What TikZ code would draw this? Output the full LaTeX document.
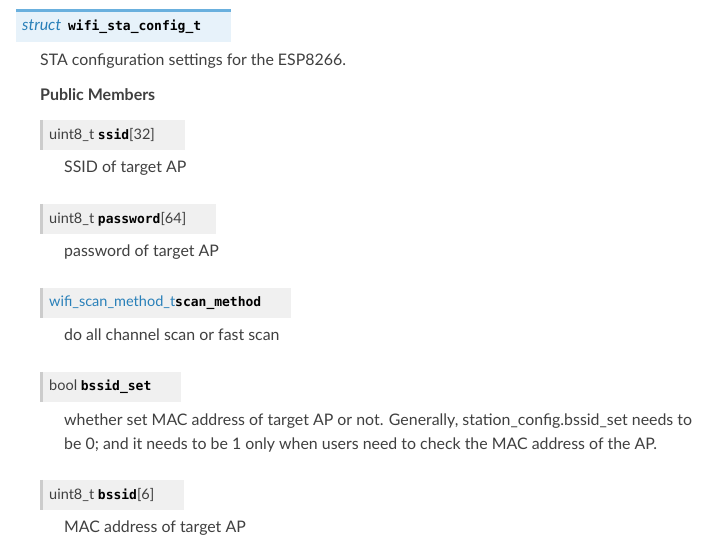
\documentclass[tikz,border=0pt]{standalone}
\usepackage{fontspec}
\setmainfont{Lato}
\setmonofont{DejaVu Sans Mono}
\usetikzlibrary{positioning}
\definecolor{bodytext}{HTML}{404040}
\definecolor{linkblue}{HTML}{2980B9}
\definecolor{hdrfill}{HTML}{E7F2FA}
\definecolor{hdrline}{HTML}{6AB0DE}
\definecolor{memfill}{HTML}{F0F0F0}
\definecolor{memline}{HTML}{CCCCCC}
\newcommand{\cname}[1]{{\ttfamily\bfseries\fontsize{13}{16}\selectfont\color{black}#1}}

\begin{document}
\begin{tikzpicture}[x=1pt,y=-1pt,
	txt/.style={anchor=west,inner sep=0pt,text=bodytext,font=\fontsize{15.9}{23.5}\selectfont,
		text height=12.5pt,text depth=1.5pt,align=left},
	head/.style={anchor=west,inner xsep=0pt,inner ysep=0pt,fill=hdrfill,minimum height=30pt,
		execute at begin node=\hspace*{6pt},execute at end node=\hspace*{30pt}},
	member/.style={anchor=west,inner xsep=0pt,inner ysep=0pt,fill=memfill,minimum height=30pt,
		text=bodytext,font=\fontsize{14.5}{16}\selectfont,
		execute at begin node=\hspace*{9pt},execute at end node=\hspace*{30pt}},
	edge/.style={line width=3pt}]
	\useasboundingbox[fill=white] (0,0) rectangle (718,544);
	% header of the struct
	\node (hdr) [head] at (16,27) {{\color{linkblue}\itshape\fontsize{16}{16}\selectfont struct}\hspace*{7pt}\cname{wifi\_sta\_config\_t}};
	\draw[edge,hdrline] ([yshift=1.5pt]hdr.north west) -- ([yshift=1.5pt]hdr.north east);
	\node (desc) [txt] at (40,60) {STA configuration settings for the ESP8266.};
	\node (pubm) [txt,font=\fontsize{16}{20}\selectfont\bfseries] at (40,95) {Public Members};
	% members
	\node (m1) [member] at (40,135) {uint8\_t \cname{ssid}[32]};
	\node (d1) [txt] at (64,167) {SSID of target AP};
	\node (m2) [member] at (40,219) {uint8\_t \cname{password}[64]};
	\node (d2) [txt] at (64,251) {password of target AP};
	\node (m3) [member] at (40,303) {{\color{linkblue}wifi\_scan\_method\_t}\cname{scan\_method}};
	\node (d3) [txt] at (64,335) {do all channel scan or fast scan};
	\node (m4) [member] at (40,387) {bool \cname{bssid\_set}};
	\node (d4) [txt,text height=,text depth=] at (64,433) {whether set MAC address of target AP or not. Generally, station\_config.bssid\_set needs to\\be 0; and it needs to be 1 only when users need to check the MAC address of the AP.};
	\node (m5) [member] at (40,495) {uint8\_t \cname{bssid}[6]};
	\node (d5) [txt] at (64,527) {MAC address of target AP};
	\foreach \m in {m1,m2,m3,m4,m5}
		\draw[edge,memline] ([xshift=1.5pt]\m.north west) -- ([xshift=1.5pt]\m.south west);
\end{tikzpicture}
\end{document}
